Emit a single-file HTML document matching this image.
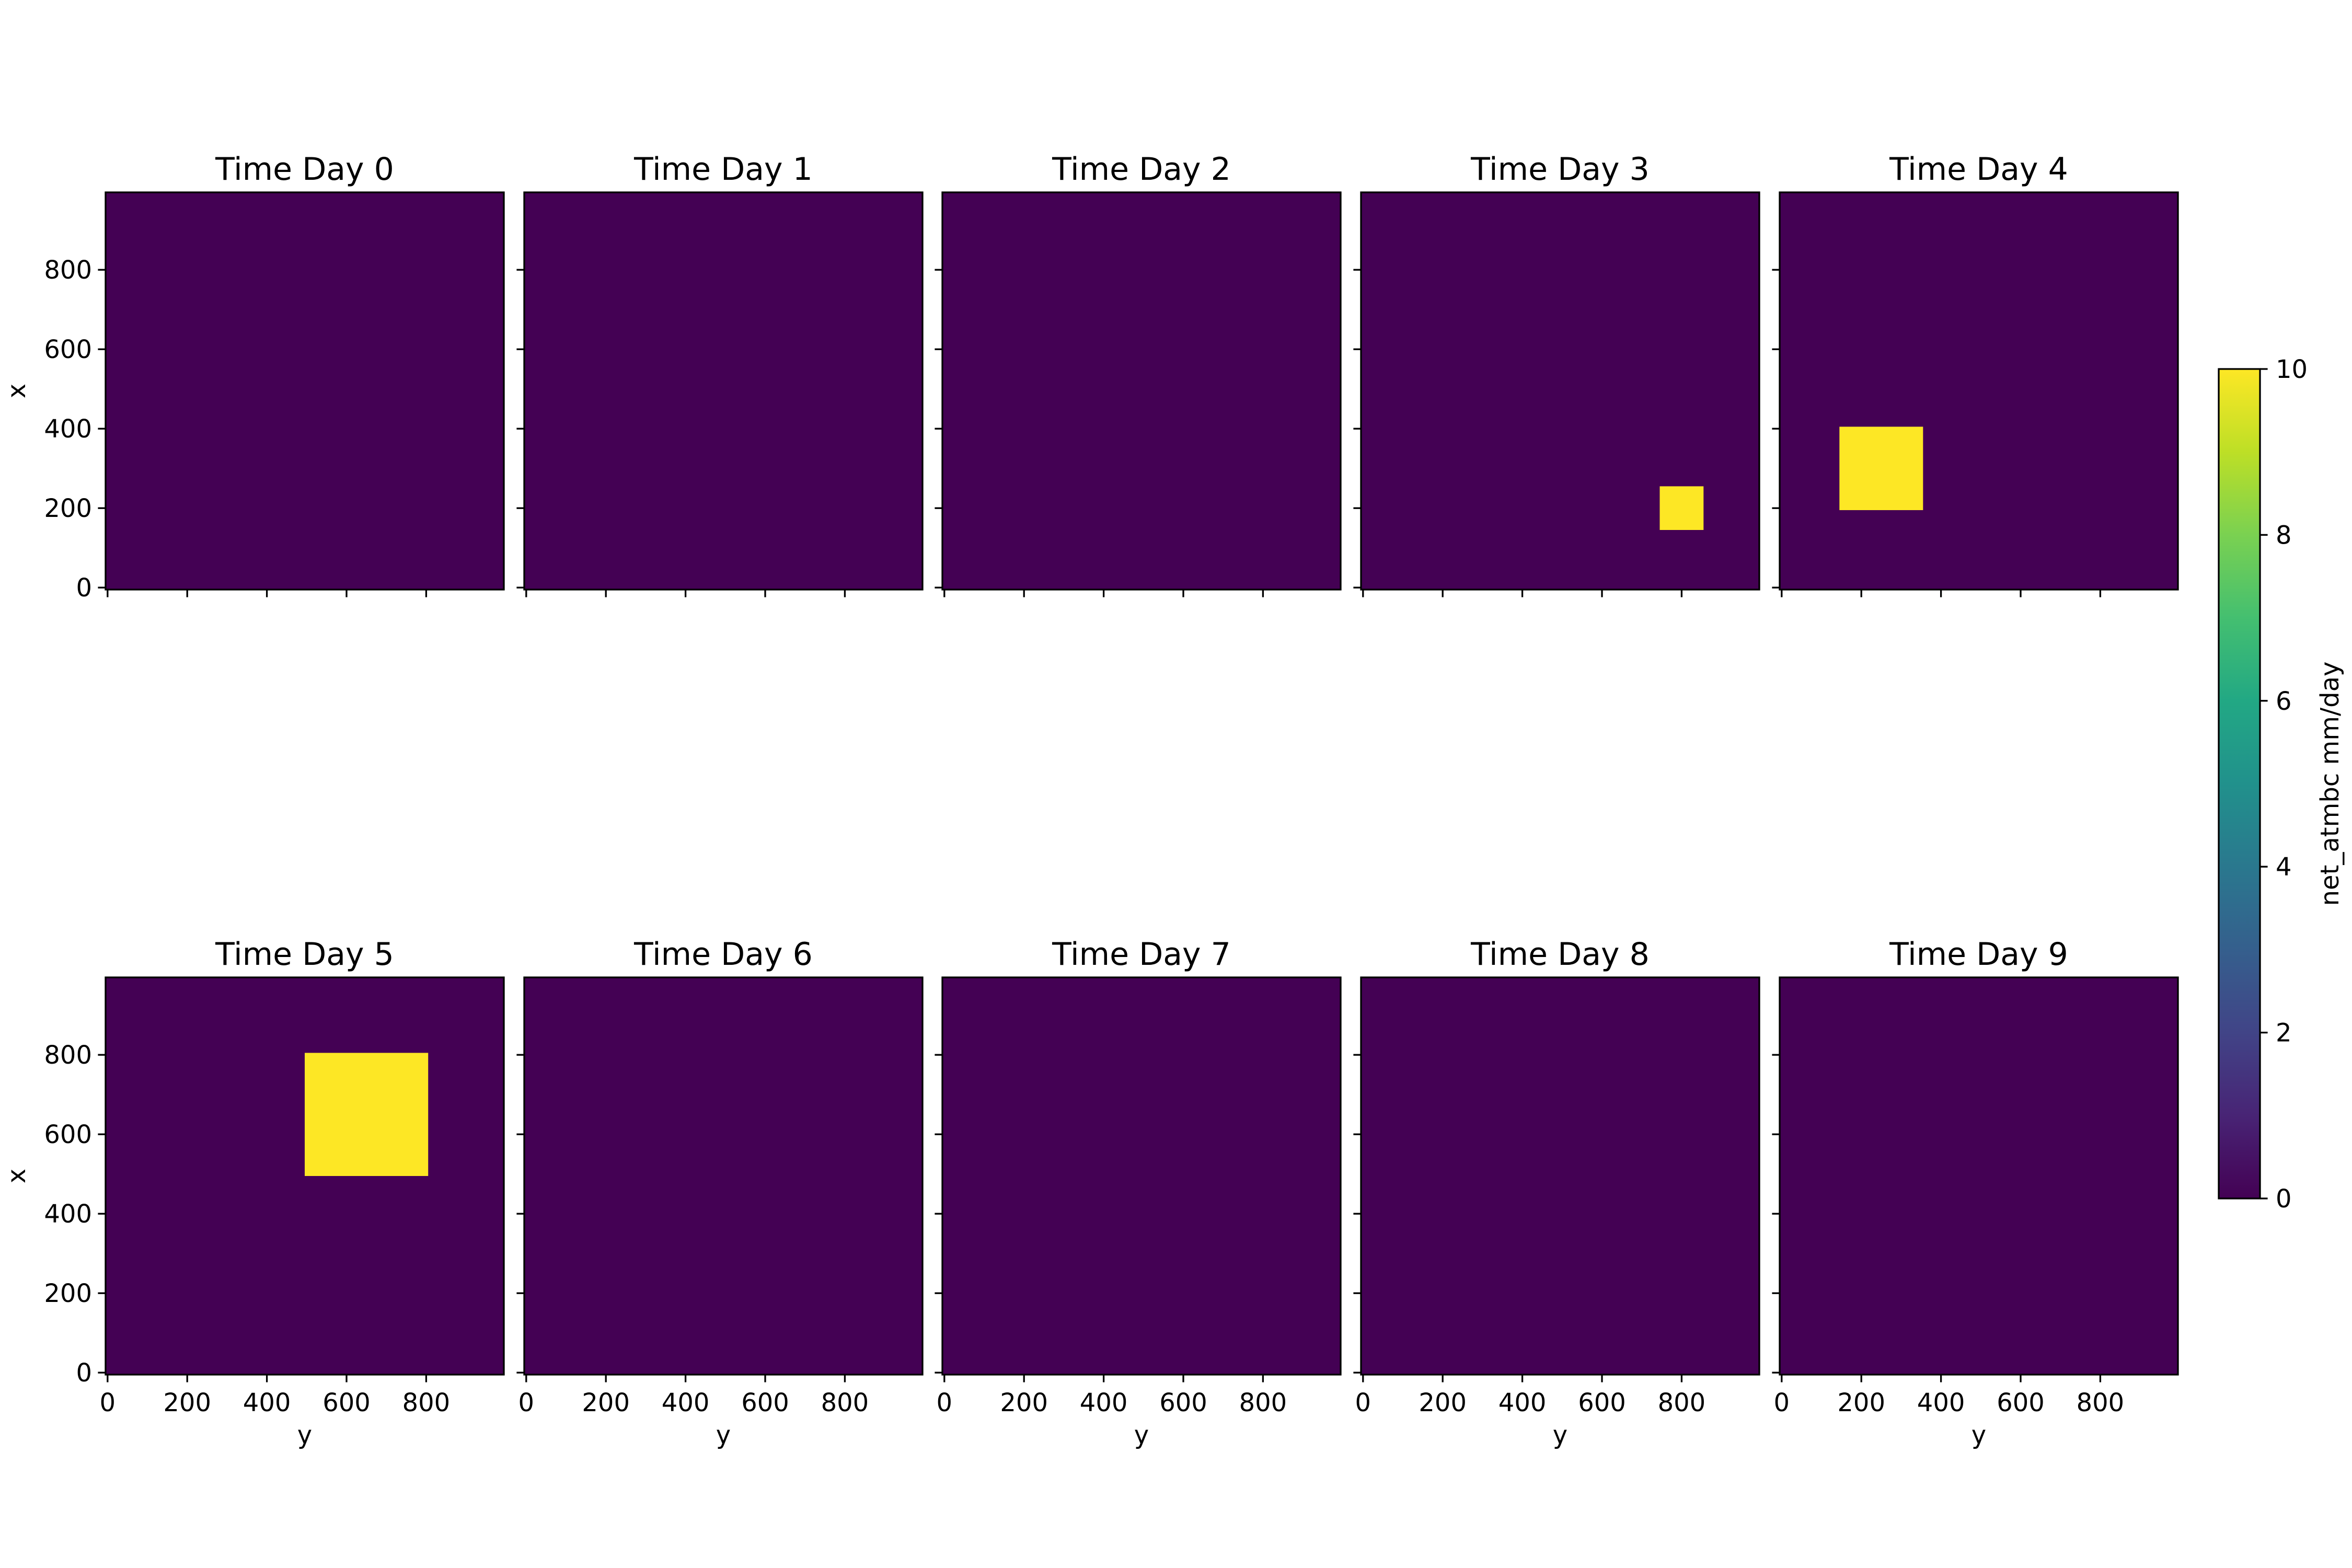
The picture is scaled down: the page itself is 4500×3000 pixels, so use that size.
<!DOCTYPE html>
<html><head><meta charset="utf-8">
<style>
html,body{margin:0;padding:0;background:#fff;}
svg{display:block;font-family:"DejaVu Sans","Liberation Sans",sans-serif;}
</style></head>
<body>
<svg id="fig" width="4500" height="3000" viewBox="0 0 4500 3000" xmlns="http://www.w3.org/2000/svg">
<defs>
<linearGradient id="viridis" x1="0" y1="1" x2="0" y2="0">
<stop offset="0" stop-color="#440154"/><stop offset="0.1" stop-color="#482475"/>
<stop offset="0.2" stop-color="#414487"/><stop offset="0.3" stop-color="#355f8d"/>
<stop offset="0.4" stop-color="#2a788e"/><stop offset="0.5" stop-color="#21918c"/>
<stop offset="0.6" stop-color="#22a884"/><stop offset="0.7" stop-color="#44bf70"/>
<stop offset="0.8" stop-color="#7ad151"/><stop offset="0.9" stop-color="#bddf26"/>
<stop offset="1" stop-color="#fde725"/>
</linearGradient>
</defs>
</svg>
<script>
// data: days, and yellow patches per day: [yStart,yEnd,xStart,xEnd] cell centres (value 10)
const days = [0,1,2,3,4,5,6,7,8,9];
const patchDay = [3, 4, 5];
const patchY0 = [750, 150, 500];
const patchY1 = [850, 350, 800];
const patchX0 = [150, 200, 500];
const patchX1 = [250, 400, 800];
const patchValue = [10, 10, 10];
const axisTicks = [0,200,400,600,800];
const cbTicks = [0,2,4,6,8,10];
const vmin = 0, vmax = 10;

const NS = "http://www.w3.org/2000/svg";
const svg = document.getElementById('fig');
const colLefts = [202,1003,1803,2604,3405];
const rowTops = [368,1870];
const W = 762, H = 760;
const dmin = -5, dmax = 995;
const TF = 60, KF = 48;
function el(tag, attrs, parent){
  const e = document.createElementNS(NS, tag);
  for (const k in attrs) e.setAttribute(k, attrs[k]);
  (parent||svg).appendChild(e); return e;
}
function viridis(v){
  const t=(v-vmin)/(vmax-vmin);
  return t>0.5 ? '#fde725' : '#440154';
}
days.forEach((d,i)=>{
  const row = Math.floor(i/5), col = i%5;
  const L = colLefts[col], T = rowTops[row];
  const sx = v => L + (v-dmin)/(dmax-dmin)*W;
  const sy = v => T + H - (v-dmin)/(dmax-dmin)*H;
  const g = el('g',{});
  
  
  const bg = el('rect',{x:L,y:T,width:W,height:H,fill:viridis(0)},g);
  
  
  patchDay.forEach((pd,j)=>{
    if (pd!==d) return;
    const x0=sx(patchY0[j]-5), x1=sx(patchY1[j]+5);
    const y0=sy(patchX1[j]+5), y1=sy(patchX0[j]-5);
    const r = el('rect',{x:x0,y:y0,width:x1-x0,height:y1-y0,fill:viridis(patchValue[j])},g);
    
    
  });
  el('rect',{x:L,y:T,width:W,height:H,fill:'none',stroke:'#000','stroke-width':3.3},g);
  const t = el('text',{x:L+W/2,y:T-24,'text-anchor':'middle','font-size':TF},g);
  t.textContent = 'Time Day '+d;
  
  
  axisTicks.forEach(v=>{
    const x=sx(v), y=sy(v);
    el('line',{x1:x,x2:x,y1:T+H,y2:T+H+14.6,stroke:'#000','stroke-width':3.3},g);
    el('line',{x1:L,x2:L-14.6,y1:y,y2:y,stroke:'#000','stroke-width':3.3},g);
    if (row===1){
      const tl = el('text',{x:x,y:T+H+70,'text-anchor':'middle','font-size':KF},g);
      tl.textContent = v;
      
      
    }
    if (col===0){
      const tl = el('text',{x:L-26,y:y+17,'text-anchor':'end','font-size':KF},g);
      tl.textContent = v;
      
      
    }
  });
  if (row===1){
    const xl = el('text',{x:L+W/2,y:T+H+132,'text-anchor':'middle','font-size':KF},g);
    xl.textContent = 'y';
    
    
  }
  if (col===0){
    const yl = el('text',{x:0,y:0,'text-anchor':'middle','font-size':KF,transform:'translate(48,'+(T+H/2)+') rotate(-90)'},g);
    yl.textContent = 'x';
    
    
  }
});
// colorbar
const cbL=4245, cbR=4324, cbT=706, cbB=2293;
const cg = el('g',{});


el('rect',{x:cbL,y:cbT,width:cbR-cbL,height:cbB-cbT,fill:'url(#viridis)',stroke:'#000','stroke-width':3.3},cg);
cbTicks.forEach(v=>{
  const y = cbB - (v-vmin)/(vmax-vmin)*(cbB-cbT);
  el('line',{x1:cbR,x2:cbR+14.6,y1:y,y2:y,stroke:'#000','stroke-width':3.3},cg);
  const tl = el('text',{x:cbR+30,y:y+17,'font-size':KF},cg);
  tl.textContent = v;
  
  
});
const cl = el('text',{x:0,y:0,'text-anchor':'middle','font-size':KF,transform:'translate(4474,'+((cbT+cbB)/2)+') rotate(-90)'},cg);
cl.textContent = 'net_atmbc mm/day';


</script>
</body></html>
